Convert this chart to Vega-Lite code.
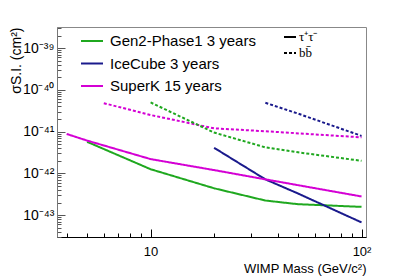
{
  "$schema": "https://vega.github.io/schema/vega-lite/v6.json",
  "width": 309,
  "height": 210,
  "autosize": {"type": "none"},
  "padding": {"left": 57, "top": 27, "right": 41, "bottom": 39},
  "background": "white",
  "config": {
    "view": {"stroke": "#888888", "strokeWidth": 1},
    "font": "Liberation Sans",
    "axis": {"grid": false}
  },
  "data": {
    "values": [
      {"series": "Gen2-Phase1 3 years", "channel": "τ⁺τ⁻", "mass": 5, "sigma": 5.7e-42},
      {"series": "Gen2-Phase1 3 years", "channel": "τ⁺τ⁻", "mass": 10, "sigma": 1.26e-42},
      {"series": "Gen2-Phase1 3 years", "channel": "τ⁺τ⁻", "mass": 20, "sigma": 4.4e-43},
      {"series": "Gen2-Phase1 3 years", "channel": "τ⁺τ⁻", "mass": 35, "sigma": 2.24e-43},
      {"series": "Gen2-Phase1 3 years", "channel": "τ⁺τ⁻", "mass": 50, "sigma": 1.83e-43},
      {"series": "Gen2-Phase1 3 years", "channel": "τ⁺τ⁻", "mass": 100, "sigma": 1.58e-43},
      {"series": "IceCube 3 years", "channel": "τ⁺τ⁻", "mass": 20, "sigma": 4.1e-42},
      {"series": "IceCube 3 years", "channel": "τ⁺τ⁻", "mass": 35, "sigma": 7.2e-43},
      {"series": "IceCube 3 years", "channel": "τ⁺τ⁻", "mass": 50, "sigma": 3.3e-43},
      {"series": "IceCube 3 years", "channel": "τ⁺τ⁻", "mass": 100, "sigma": 6.7e-44},
      {"series": "SuperK 15 years", "channel": "τ⁺τ⁻", "mass": 4, "sigma": 8.8e-42},
      {"series": "SuperK 15 years", "channel": "τ⁺τ⁻", "mass": 5, "sigma": 6.1e-42},
      {"series": "SuperK 15 years", "channel": "τ⁺τ⁻", "mass": 10, "sigma": 2.2e-42},
      {"series": "SuperK 15 years", "channel": "τ⁺τ⁻", "mass": 20, "sigma": 1.2e-42},
      {"series": "SuperK 15 years", "channel": "τ⁺τ⁻", "mass": 35, "sigma": 7.2e-43},
      {"series": "SuperK 15 years", "channel": "τ⁺τ⁻", "mass": 100, "sigma": 2.8e-43},
      {"series": "SuperK 15 years", "channel": "bb̄", "mass": 6, "sigma": 4.8e-41},
      {"series": "SuperK 15 years", "channel": "bb̄", "mass": 10, "sigma": 2.5e-41},
      {"series": "SuperK 15 years", "channel": "bb̄", "mass": 20, "sigma": 1.2e-41},
      {"series": "SuperK 15 years", "channel": "bb̄", "mass": 35, "sigma": 1.02e-41},
      {"series": "SuperK 15 years", "channel": "bb̄", "mass": 100, "sigma": 7.3e-42},
      {"series": "Gen2-Phase1 3 years", "channel": "bb̄", "mass": 10, "sigma": 5.0e-41},
      {"series": "Gen2-Phase1 3 years", "channel": "bb̄", "mass": 20, "sigma": 9.5e-42},
      {"series": "Gen2-Phase1 3 years", "channel": "bb̄", "mass": 35, "sigma": 4.2e-42},
      {"series": "Gen2-Phase1 3 years", "channel": "bb̄", "mass": 50, "sigma": 3.2e-42},
      {"series": "Gen2-Phase1 3 years", "channel": "bb̄", "mass": 100, "sigma": 2.0e-42},
      {"series": "IceCube 3 years", "channel": "bb̄", "mass": 35, "sigma": 4.9e-41},
      {"series": "IceCube 3 years", "channel": "bb̄", "mass": 50, "sigma": 2.7e-41},
      {"series": "IceCube 3 years", "channel": "bb̄", "mass": 100, "sigma": 7.9e-42}
    ]
  },
  "mark": {"type": "line", "strokeWidth": 2, "clip": true},
  "encoding": {
    "x": {
      "field": "mass",
      "type": "quantitative",
      "scale": {"type": "log", "domain": [3.6, 105], "nice": false},
      "axis": {
        "title": "WIMP Mass (GeV/c²)",
        "titleAnchor": "end",
        "titleFont": "Liberation Sans",
        "titleFontSize": 13,
        "titleFontWeight": "normal",
        "titleColor": "black",
        "titlePadding": 0,
        "values": [4, 5, 6, 7, 8, 9, 10, 20, 30, 40, 50, 60, 70, 80, 90, 100],
        "labelExpr": "datum.value == 10 ? '10' : datum.value == 100 ? '10²' : ''",
        "labelFontSize": 13,
        "labelColor": "black",
        "labelPadding": 16,
        "labelFlush": false,
        "labelOverlap": false,
        "tickSize": {"condition": {"test": "datum.value == 10 || datum.value == 100", "value": -8}, "value": -4},
        "tickColor": "black",
        "domainColor": "black"
      }
    },
    "y": {
      "field": "sigma",
      "type": "quantitative",
      "scale": {"type": "log", "domain": [3.0e-44, 3.2e-39], "nice": false},
      "axis": {
        "title": "σS.I. (cm²)",
        "titleAnchor": "end",
        "titleFont": "Liberation Sans",
        "titleFontSize": 14,
        "titleFontWeight": "normal",
        "titleColor": "black",
        "titlePadding": -1,
        "values": [3e-44, 4e-44, 5e-44, 6e-44, 7e-44, 8e-44, 9e-44,
                   1e-43, 2e-43, 3e-43, 4e-43, 5e-43, 6e-43, 7e-43, 8e-43, 9e-43,
                   1e-42, 2e-42, 3e-42, 4e-42, 5e-42, 6e-42, 7e-42, 8e-42, 9e-42,
                   1e-41, 2e-41, 3e-41, 4e-41, 5e-41, 6e-41, 7e-41, 8e-41, 9e-41,
                   1e-40, 2e-40, 3e-40, 4e-40, 5e-40, 6e-40, 7e-40, 8e-40, 9e-40,
                   1e-39, 2e-39, 3e-39],
        "labelExpr": "abs(log(datum.value)/LN10 - round(log(datum.value)/LN10)) > 0.001 ? '' : round(log(datum.value)/LN10) == -39 ? '10⁻³⁹' : round(log(datum.value)/LN10) == -40 ? '10⁻⁴⁰' : round(log(datum.value)/LN10) == -41 ? '10⁻⁴¹' : round(log(datum.value)/LN10) == -42 ? '10⁻⁴²' : '10⁻⁴³'",
        "labelFontSize": 14,
        "labelColor": "black",
        "labelPadding": 11,
        "labelFlush": false,
        "labelOverlap": false,
        "tickSize": {"condition": {"test": "abs(log(datum.value)/LN10 - round(log(datum.value)/LN10)) > 0.001", "value": -4}, "value": -8},
        "tickColor": "#555555",
        "domainColor": "#777777"
      }
    },
    "color": {
      "field": "series",
      "type": "nominal",
      "scale": {
        "domain": ["Gen2-Phase1 3 years", "IceCube 3 years", "SuperK 15 years"],
        "range": ["#1fa81f", "#1a1a8c", "#d400d4"]
      },
      "legend": {
        "title": null,
        "orient": "none",
        "legendX": 23,
        "legendY": 2,
        "padding": 0,
        "symbolType": "stroke",
        "symbolSize": 484,
        "symbolStrokeWidth": 2,
        "labelFont": "Liberation Sans",
        "labelFontSize": 15,
        "labelColor": "black",
        "labelOffset": 6,
        "rowPadding": 2.5,
        "labelLimit": 300
      }
    },
    "strokeDash": {
      "field": "channel",
      "type": "nominal",
      "scale": {"domain": ["τ⁺τ⁻", "bb̄"], "range": [[1, 0], [3, 2]]},
      "legend": {
        "title": null,
        "orient": "none",
        "legendX": 226,
        "legendY": 3,
        "padding": 0,
        "symbolType": "stroke",
        "symbolSize": 144,
        "symbolStrokeWidth": 2,
        "symbolStrokeColor": "black",
        "labelFont": "Liberation Serif",
        "labelFontSize": 13,
        "labelColor": "black",
        "labelOffset": 2,
        "rowPadding": 2
      }
    }
  }
}
